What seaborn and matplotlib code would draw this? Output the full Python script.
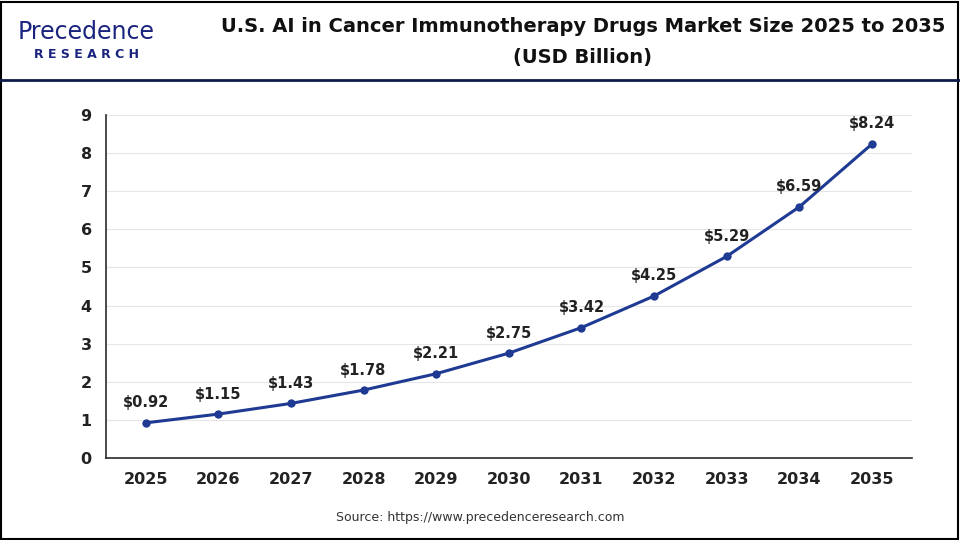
import matplotlib
matplotlib.use("Agg")
import matplotlib.pyplot as plt
import seaborn as sns
import pandas as pd
from matplotlib.lines import Line2D
from matplotlib.patches import Rectangle

years = [2025, 2026, 2027, 2028, 2029, 2030, 2031, 2032, 2033, 2034, 2035]
values = [0.92, 1.15, 1.43, 1.78, 2.21, 2.75, 3.42, 4.25, 5.29, 6.59, 8.24]
df = pd.DataFrame({"year": years, "value": values})

sns.set_theme(style="white")
plt.rcParams['font.family'] = ['DejaVu Sans']
fig = plt.figure(figsize=(9.6, 5.4), dpi=100)
ax = fig.add_axes([0.11, 0.152, 0.84, 0.635])
color = "#1f3a93"
sns.lineplot(data=df, x="year", y="value", ax=ax, color=color, linewidth=2.2,
             marker="o", markersize=6, markeredgewidth=0)
for x, y in zip(years, values):
    ax.annotate(f"${y:.2f}", (x, y), xytext=(0, 9), textcoords="offset points",
                ha="center", va="bottom", fontsize=10.5, fontweight="bold", color="#222222")
ax.set_xlim(2024.45, 2035.55)
ax.set_ylim(0, 9)
ax.set_yticks(range(0, 10))
ax.set_xticks(years)
ax.tick_params(axis="both", labelsize=11.5, length=0, pad=10)
for lab in ax.get_xticklabels() + ax.get_yticklabels():
    lab.set_fontweight("bold")
    lab.set_color("#222222")
ax.grid(axis="y", color="#e6e6e6", linewidth=0.8)
ax.set_xlabel("")
ax.set_ylabel("")
for s in ["top", "right"]:
    ax.spines[s].set_visible(False)
ax.spines["left"].set_color("#333333")
ax.spines["bottom"].set_color("#333333")

fig.text(0.607, 0.95, "U.S. AI in Cancer Immunotherapy Drugs Market Size 2025 to 2035",
         ha="center", va="center", fontsize=14, fontweight="bold", color="#111111")
fig.text(0.607, 0.893, "(USD Billion)", ha="center", va="center", fontsize=14,
         fontweight="bold", color="#111111")
fig.text(0.09, 0.94, "Precedence", ha="center", va="center", fontsize=17, color="#1a237e")
fig.text(0.09, 0.9, "R E S E A R C H", ha="center", va="center", fontsize=9,
         fontweight="bold", color="#1a237e")
fig.text(0.5, 0.042, "Source: https://www.precedenceresearch.com", ha="center",
         va="center", fontsize=9, color="#333333")
fig.add_artist(Line2D([0, 1], [0.852, 0.852], color="#0d1b4c", linewidth=2))
fig.add_artist(Rectangle((0.001, 0.002), 0.997, 0.995, fill=False, edgecolor="black",
                         linewidth=1.5, transform=fig.transFigure))
fig.savefig("out.png", dpi=100)
